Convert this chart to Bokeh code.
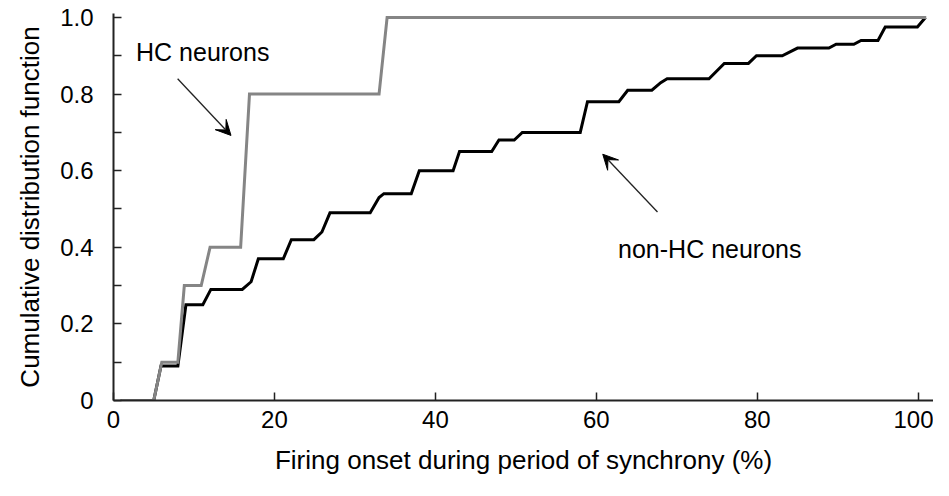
from bokeh.plotting import figure
from bokeh.models import Range1d, FixedTicker, Arrow, VeeHead, Label
from bokeh.embed import file_html
from bokeh.resources import INLINE

# ---- data ----
hc_x = [0.9, 5.0, 6.0, 8.0, 8.8, 10.9, 12.0, 15.8, 16.9, 33.0, 34.0, 101.0]
hc_y = [0, 0, 0.10, 0.10, 0.30, 0.30, 0.40, 0.40, 0.80, 0.80, 1.0, 1.0]

nonhc_x = [0.9, 5.0, 5.9, 8.0, 9.0, 11.1, 12.1, 16.0, 17.1, 18.0, 21.1, 22.1,
           24.9, 25.9, 26.9, 31.9, 33.0, 33.6, 37.0, 38.0, 42.2, 43.0, 47.0,
           47.9, 49.8, 50.8, 58.0, 58.9, 62.8, 63.9, 66.9, 68.0, 68.8, 74.0,
           75.9, 78.9, 79.9, 83.1, 85.0, 88.9, 89.8, 92.0, 92.9, 95.0, 95.9,
           99.9, 100.9]
nonhc_y = [0, 0, 0.09, 0.09, 0.25, 0.25, 0.29, 0.29, 0.31, 0.37, 0.37, 0.42,
           0.42, 0.44, 0.49, 0.49, 0.53, 0.54, 0.54, 0.60, 0.60, 0.65, 0.65,
           0.68, 0.68, 0.70, 0.70, 0.78, 0.78, 0.81, 0.81, 0.83, 0.84, 0.84,
           0.88, 0.88, 0.90, 0.90, 0.92, 0.92, 0.93, 0.93, 0.94, 0.94, 0.975,
           0.975, 1.0]

x_ticks = [0, 20, 40, 60, 80, 100]
y_ticks = [0, 0.1, 0.2, 0.3, 0.4, 0.5, 0.6, 0.7, 0.8, 0.9, 1.0]
y_tick_labels = {0: "0", 0.1: "", 0.2: "0.2", 0.3: "", 0.4: "0.4", 0.5: "",
                 0.6: "0.6", 0.7: "", 0.8: "0.8", 0.9: "", 1.0: "1.0"}

x_title = "Firing onset during period of synchrony (%)"
y_title = "Cumulative distribution function"
hc_label = "HC neurons"
nonhc_label = "non-HC neurons"
hc_arrow = (7.97, 0.84, 14.6, 0.692)
nonhc_arrow = (67.6, 0.492, 60.8, 0.643)
hc_text_pos = (2.8, 0.911)
nonhc_text_pos = (62.7, 0.395)

FONT = "Liberation Sans"

p = figure(width=933, height=480, output_backend="svg", toolbar_location=None,
           x_range=Range1d(0, 101.9), y_range=Range1d(0, 1.0104),
           min_border_left=113, min_border_right=0, min_border_top=13,
           min_border_bottom=80)
p.outline_line_color = None
p.xgrid.grid_line_color = None
p.ygrid.grid_line_color = None
p.background_fill_color = "white"
p.border_fill_color = "white"

p.line(nonhc_x, nonhc_y, line_color="black", line_width=3, line_join="miter")
p.line(hc_x, hc_y, line_color="#858585", line_width=3, line_join="miter")

for ax in (p.xaxis[0], p.yaxis[0]):
    ax.axis_line_color = "#222222"
    ax.axis_line_width = 2
    ax.major_tick_line_color = "#222222"
    ax.major_tick_line_width = 1.5
    ax.major_tick_in = 8
    ax.major_tick_out = 0
    ax.minor_tick_line_color = None
    ax.major_label_text_font = FONT
    ax.major_label_text_font_size = "24px"
    ax.major_label_text_color = "black"
    ax.axis_label_text_font = FONT
    ax.axis_label_text_font_size = "26px"
    ax.axis_label_text_font_style = "normal"
    ax.axis_label_text_color = "black"

p.xaxis.ticker = FixedTicker(ticks=x_ticks)
p.yaxis.ticker = FixedTicker(ticks=y_ticks)
p.yaxis.major_label_overrides = y_tick_labels
p.xaxis.major_label_standoff = 10
p.yaxis.major_label_standoff = 20
p.xaxis.axis_label = x_title
p.yaxis.axis_label = y_title
p.xaxis.axis_label_standoff = 14
p.yaxis.axis_label_standoff = 12

for (xs, ys, xe, ye) in (hc_arrow, nonhc_arrow):
    p.add_layout(Arrow(x_start=xs, y_start=ys, x_end=xe, y_end=ye,
                       line_color="#222222", line_width=1.3,
                       end=VeeHead(size=15, fill_color="black",
                                   line_color="black", line_width=1)))

p.add_layout(Label(x=hc_text_pos[0], y=hc_text_pos[1], text=hc_label,
                   text_font=FONT, text_font_size="25px", text_color="black",
                   text_baseline="alphabetic"))
p.add_layout(Label(x=nonhc_text_pos[0], y=nonhc_text_pos[1], text=nonhc_label,
                   text_font=FONT, text_font_size="25px", text_color="black",
                   text_baseline="alphabetic"))

open("out.html", "w").write(file_html(p, INLINE))
